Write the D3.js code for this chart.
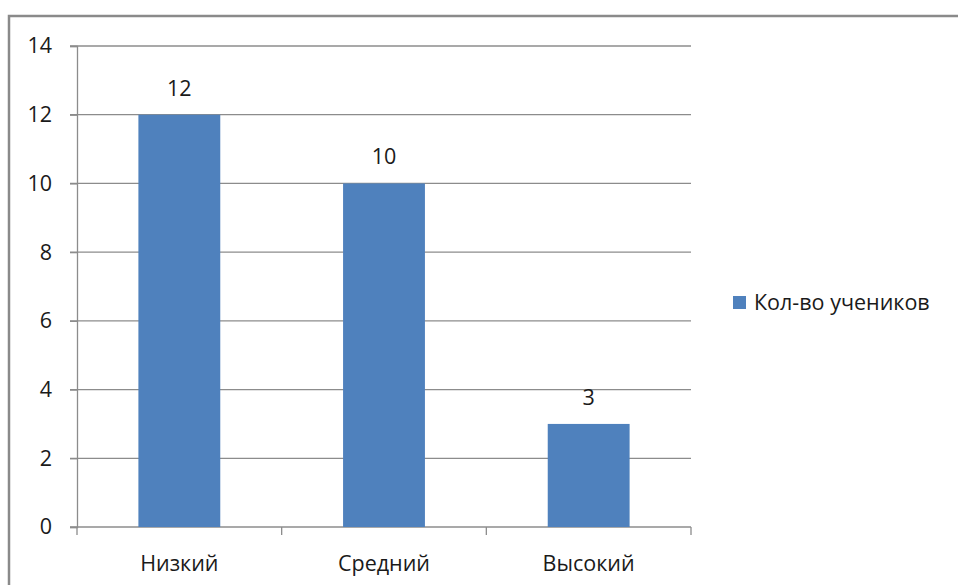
<!DOCTYPE html>
<html>
<head>
<meta charset="utf-8">
<script src="https://cdn.jsdelivr.net/npm/d3@7"></script>
<style>
 body { margin: 0; background: #fff; }
 text { font-family: "Open Sans", "DejaVu Sans", sans-serif; fill: #1a1a1a; }
</style>
</head>
<body>
<svg></svg>
<script>
// размеры как у исходной картинки
const width = 958;
const height = 585;

// данные
const categories = ["Низкий", "Средний", "Высокий"];
const values = [12, 10, 3];
const seriesName = "Кол-во учеников";
const yTicks = [0, 2, 4, 6, 8, 10, 12, 14];

const margin = {left: 77, top: 46, right: 691, bottom: 527};
const barColor = "#4f81bd";
const gridColor = "#8c8c8c";
const fontSize = "21.5px";

let svg = d3.select("svg")
 .attr("width", width)
 .attr("height", height);

// рамка области диаграммы (видны только левая и верхняя стороны)
svg.append("path")
 .attr("d", `M9,${height + 5} V16 H${width + 5}`)
 .style("fill", "none")
 .style("stroke", "#8a8a8a")
 .style("stroke-width", 2.5);

let x = d3.scaleBand()
 .domain(categories)
 .range([margin.left, margin.right])
 .paddingInner(0.6)
 .paddingOuter(0.3);

let y = d3.scaleLinear()
 .domain([0, 14])
 .range([margin.bottom, margin.top]);

// сетка
svg.append("g")
 .selectAll("line")
 .data(yTicks)
 .join("line")
 .attr("x1", margin.left - 7)
 .attr("x2", margin.right)
 .attr("y1", d => y(d))
 .attr("y2", d => y(d))
 .style("stroke", gridColor)
 .style("stroke-width", 1.3);

// ось y
let yAxis = svg.append("g")
 .attr("transform", `translate(${margin.left},0)`)
 .call(d3.axisLeft(y).tickValues(yTicks).tickSize(7).tickPadding(18));
yAxis.attr("font-size", null).attr("font-family", null);
yAxis.select(".domain").style("stroke", gridColor).style("stroke-width", 1.3);
yAxis.selectAll(".tick line").style("stroke", gridColor).style("stroke-width", 1.3);
yAxis.selectAll("text").style("font-size", fontSize).style("fill", "#1a1a1a");

// ось x с делениями между категориями
let xEdges = [margin.left].concat(categories.map(c => x(c) - x.step() * x.paddingInner() / 2 + x.step()));
xEdges[xEdges.length - 1] = margin.right;
svg.append("g")
 .selectAll("line")
 .data(xEdges)
 .join("line")
 .attr("x1", d => d)
 .attr("x2", d => d)
 .attr("y1", margin.bottom)
 .attr("y2", margin.bottom + 8)
 .style("stroke", gridColor)
 .style("stroke-width", 1.3);

svg.append("g")
 .selectAll("text")
 .data(categories)
 .join("text")
 .attr("x", d => x(d) + x.bandwidth() / 2)
 .attr("y", 571)
 .attr("text-anchor", "middle")
 .style("font-size", fontSize)
 .text(d => d);

// столбцы
svg.append("g")
 .selectAll("rect")
 .data(values)
 .join("rect")
 .attr("x", (d, i) => x(categories[i]))
 .attr("y", d => y(d))
 .attr("width", x.bandwidth())
 .attr("height", d => y(0) - y(d))
 .style("fill", barColor);

// подписи значений
svg.append("g")
 .selectAll("text")
 .data(values)
 .join("text")
 .attr("x", (d, i) => x(categories[i]) + x.bandwidth() / 2)
 .attr("y", d => y(d) - 19)
 .attr("text-anchor", "middle")
 .style("font-size", fontSize)
 .text(d => d);

// легенда
let legend = svg.append("g").attr("transform", "translate(733,296)");
legend.append("rect")
 .attr("width", 13)
 .attr("height", 13)
 .style("fill", barColor);
legend.append("text")
 .attr("x", 21)
 .attr("y", 14)
 .style("font-size", fontSize)
 .text(seriesName);
</script>
</body>
</html>
